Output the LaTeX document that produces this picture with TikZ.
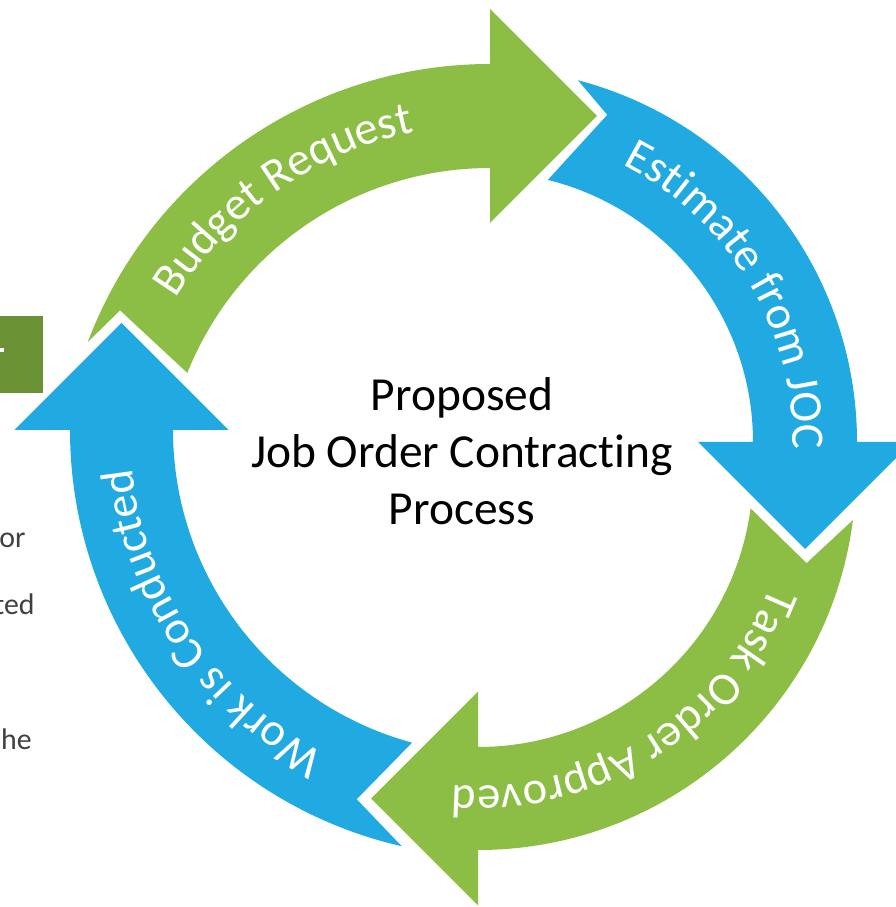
\documentclass[tikz,border=0pt]{standalone}
\usepackage{fontspec}
\setmainfont{Carlito}[Ligatures=NoCommon]
\usetikzlibrary{calc,decorations.text}

\definecolor{cyclegreen}{HTML}{8CBE46}
\definecolor{cycleblue}{HTML}{21A9E1}
\definecolor{slidegreen}{HTML}{6A9134}
\definecolor{slidegray}{HTML}{404040}

\newcommand{\arcfont}{\fontsize{26.5pt}{30pt}\selectfont}

% centre, outer r, inner r, tail angles (outer, inner), notch angle, notch r, head angle, colour
\newcommand{\cyclearrow}[9]{%
  \fill[#9] ($#1+(#4:#2)$) arc[start angle=#4, end angle=#8, radius=#2]
    -- ($#1+(#8:{(#2+#3)/2+107})$)
    -- ($#1+(#8:{(#2+#3)/2})+({#8-90}:107)$)
    -- ($#1+(#8:{(#2+#3)/2-107})$)
    -- ($#1+(#8:#3)$) arc[start angle=#8, end angle=#5, radius=#3]
    -- ($#1+(#6:#7)$) -- cycle;
}

\tikzset{
  arc label/.style={decorate, decoration={text along path,
      text={|\arcfont\color{white}|#1}, text align=center}},
  slide text/.style={anchor=base east, text=slidegray,
      font=\fontsize{17pt}{20pt}\selectfont, inner sep=0pt}
}

\begin{document}
\begin{tikzpicture}[x=0.02cm, y=0.02cm]
  \useasboundingbox (0,0) rectangle (896,907);
  \clip (0,0) rectangle (896,907);

  % slide behind the cycle
  \fill[slidegreen] (0,514) rectangle (43,591);
  \fill[white] (0,555) rectangle (4,559);
  \node[slide text] (or) at (26,359) {or};
  \node[slide text] (ted) at (35,292) {ted};
  \node[slide text] (he) at (32,157) {he};

  \coordinate (budget) at (490,413);
  \coordinate (estimate) at (483,465);
  \coordinate (task) at (478,435);
  \coordinate (work) at (497,477);

  \cyclearrow{(budget)}{430}{326}{159.3}{158.2}{153.6}{413}{90}{cyclegreen}
  \cyclearrow{(estimate)}{374}{270}{75.3}{76.1}{69.2}{350}{0}{cycleblue}
  \cyclearrow{(task)}{378}{275}{-7.3}{-7.6}{-15.5}{341}{-90}{cyclegreen}
  \cyclearrow{(work)}{427}{324}{-102.9}{-105.2}{-110.8}{395}{-180}{cycleblue}

  \path[arc label={Budget Request}] ($(budget)+(165:370)$)
    arc[start angle=165, end angle=85, radius=370];
  \path[arc label={Estimate from JOC}] ($(estimate)+(71:310)$)
    arc[start angle=71, end angle=-9, radius=310];
  \path[arc label={Task Order Approved}] ($(task)+(-18:314)$)
    arc[start angle=-18, end angle=-98, radius=314];
  \path[arc label={Work is Conducted}] ($(work)+(-106:367)$)
    arc[start angle=-106, end angle=-186, radius=367];

  \node[align=center, font=\fontsize{27pt}{32.5pt}\selectfont] (title) at (462,456)
    {Proposed\\Job Order Contracting\\Process};
\end{tikzpicture}
\end{document}
